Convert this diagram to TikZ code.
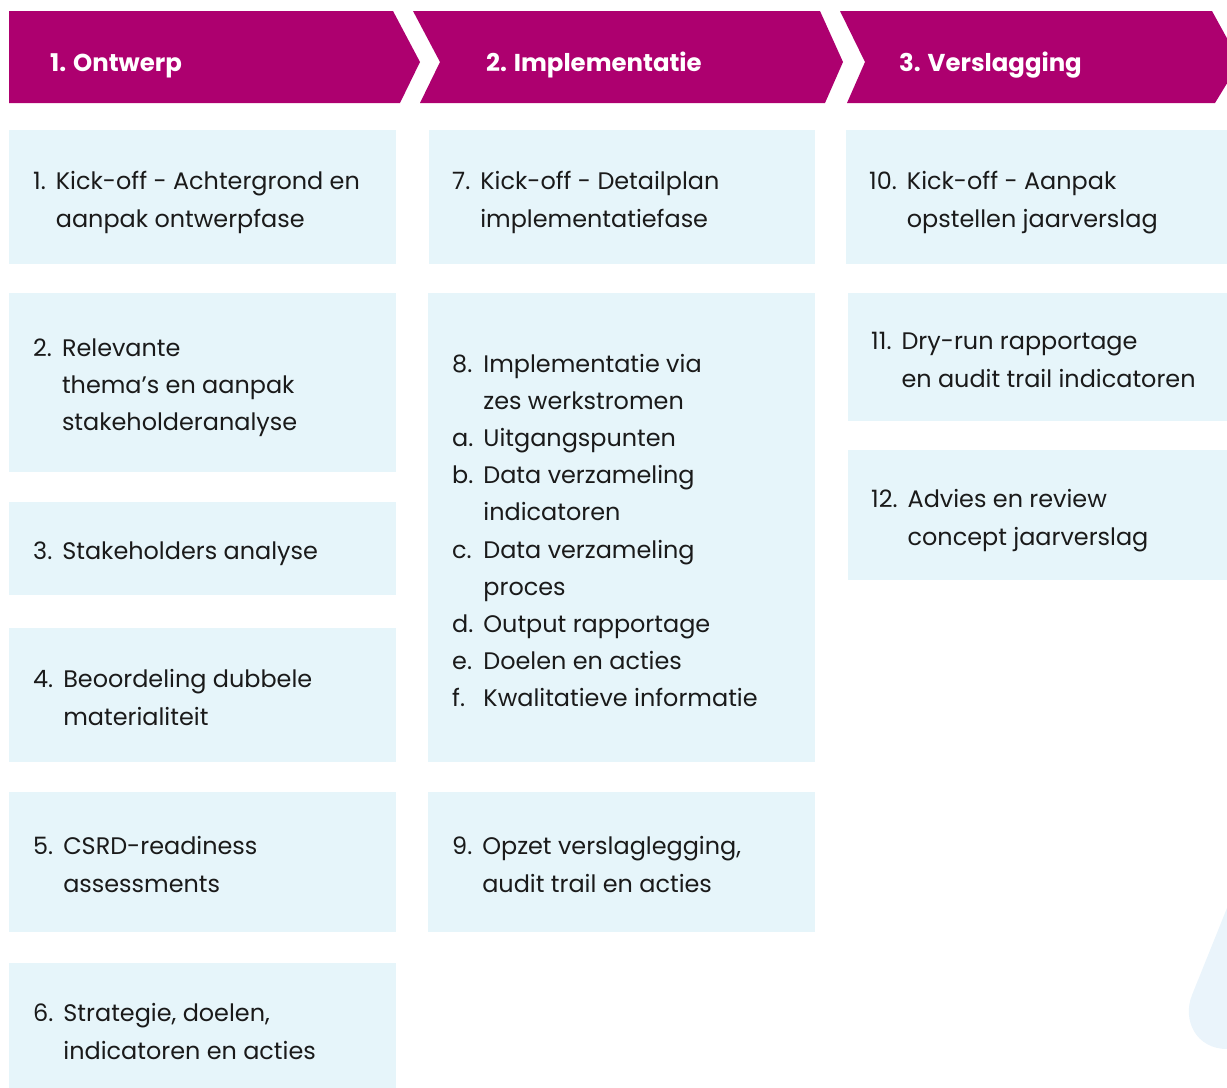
\documentclass[tikz,border=0pt]{standalone}
\usepackage{fontspec}
\setmainfont{Poppins}
\definecolor{magenta}{HTML}{AD006F}
\definecolor{boxfill}{HTML}{E6F5FA}
\definecolor{dropfill}{HTML}{EAF4FB}
\definecolor{textcol}{HTML}{1A1A1A}
\newcommand{\bodyfont}{\fontsize{24}{37.3}\selectfont}
\newcommand{\headfont}{\fontsize{24.5}{28}\selectfont\bfseries}
\newcommand{\nr}[1]{\mbox{#1\hspace{0.42em}}}
\tikzset{
  band/.style={fill=magenta, draw=none},
  stepcell/.style={fill=boxfill, draw=none},
  txt/.style={anchor=west, inner sep=0pt, text=textcol, font=\bodyfont, align=left},
  head/.style={anchor=base west, inner sep=0pt, text=white, font=\headfont}
}
\begin{document}
\begin{tikzpicture}[x=1bp,y=-1bp]
\useasboundingbox (0,0) rectangle (1227,1088);
\begin{scope}
\clip (0,0) rectangle (1227,1088);
% header chevrons
\fill[band] (9,11) -- (393,11) -- (420,62) -- (400,103) -- (9,103) -- cycle;
\fill[band] (413,11) -- (820,11) -- (843,62) -- (825,103) -- (420,103) -- (440,62) -- cycle;
\fill[band] (840,11) -- (1212,11) -- (1240,62) -- (1215,103) -- (847,103) -- (865,62) -- cycle;
% drop shape
\fill[dropfill] (1227,908) -- (1192,995) .. controls (1182,1020) and (1196,1049) .. (1227,1049) -- cycle;
% column 1 boxes
\fill[stepcell] (9,130) rectangle (396,264);
\fill[stepcell] (9,293) rectangle (396,472);
\fill[stepcell] (9,502) rectangle (396,595);
\fill[stepcell] (9,628) rectangle (396,762);
\fill[stepcell] (9,792) rectangle (396,932);
\fill[stepcell] (9,963) rectangle (396,1100);
% column 2 boxes
\fill[stepcell] (429,130) rectangle (815,264);
\fill[stepcell] (428,293) rectangle (815,762);
\fill[stepcell] (428,792) rectangle (815,932);
% column 3 boxes
\fill[stepcell] (846,130) rectangle (1227,264);
\fill[stepcell] (848,293) rectangle (1227,421);
\fill[stepcell] (848,450) rectangle (1227,580);
\end{scope}
% headers
\node[head] (h1) at (50,71) {1. Ontwerp};
\node[head] (h2) at (486,71) {2. Implementatie};
\node[head] (h3) at (899,71) {3. Verslagging};
% column 1 texts
\node[txt] (t1) at (33,201) {\begin{tabular}{@{}l@{}l@{}}\nr{1.} & Kick-off - Achtergrond en\\ & aanpak ontwerpfase\end{tabular}};
\node[txt] (t2) at (33,386) {\begin{tabular}{@{}l@{}l@{}}\nr{2.} & Relevante\\ & thema’s en aanpak\\ & stakeholderanalyse\end{tabular}};
\node[txt] (t3) at (33,552) {\begin{tabular}{@{}l@{}l@{}}\nr{3.} & Stakeholders analyse\end{tabular}};
\node[txt] (t4) at (33,699) {\begin{tabular}{@{}l@{}l@{}}\nr{4.} & Beoordeling dubbele\\ & materialiteit\end{tabular}};
\node[txt] (t5) at (33,866) {\begin{tabular}{@{}l@{}l@{}}\nr{5.} & CSRD-readiness\\ & assessments\end{tabular}};
\node[txt] (t6) at (33,1033) {\begin{tabular}{@{}l@{}l@{}}\nr{6.} & Strategie, doelen,\\ & indicatoren en acties\end{tabular}};
% column 2 texts
\node[txt] (t7) at (452,201) {\begin{tabular}{@{}l@{}l@{}}\nr{7.} & Kick-off - Detailplan\\ & implementatiefase\end{tabular}};
\node[txt] (t8) at (452,532) {\begin{tabular}{@{}l@{}l@{}}\nr{8.} & Implementatie via\\ & zes werkstromen\\ \nr{a.} & Uitgangspunten\\ \nr{b.} & Data verzameling\\ & indicatoren\\ \nr{c.} & Data verzameling\\ & proces\\ \nr{d.} & Output rapportage\\ \nr{e.} & Doelen en acties\\ \nr{f.} & Kwalitatieve informatie\end{tabular}};
\node[txt] (t9) at (452,866) {\begin{tabular}{@{}l@{}l@{}}\nr{9.} & Opzet verslaglegging,\\ & audit trail en acties\end{tabular}};
% column 3 texts
\node[txt] (t10) at (869,201) {\begin{tabular}{@{}l@{}l@{}}\nr{10.} & Kick-off - Aanpak\\ & opstellen jaarverslag\end{tabular}};
\node[txt] (t11) at (871,361) {\begin{tabular}{@{}l@{}l@{}}\nr{11.} & Dry-run rapportage\\ & en audit trail indicatoren\end{tabular}};
\node[txt] (t12) at (871,519) {\begin{tabular}{@{}l@{}l@{}}\nr{12.} & Advies en review\\ & concept jaarverslag\end{tabular}};
\end{tikzpicture}
\end{document}
